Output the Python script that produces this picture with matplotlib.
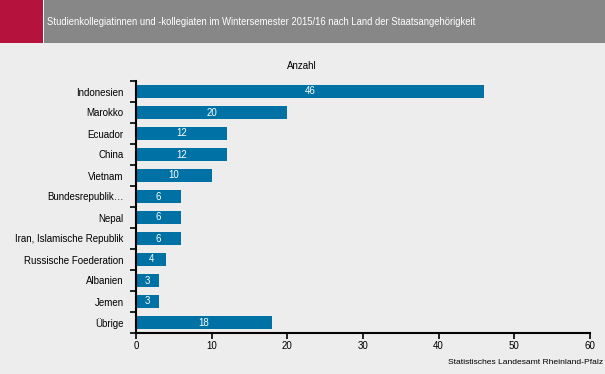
import matplotlib.pyplot as plt
from matplotlib.patches import Rectangle

plt.rcParams["font.family"] = ["Liberation Sans", "DejaVu Sans"]

countries = [
    "Indonesien",
    "Marokko",
    "Ecuador",
    "China",
    "Vietnam",
    "Bundesrepublik…",
    "Nepal",
    "Iran, Islamische Republik",
    "Russische Foederation",
    "Albanien",
    "Jemen",
    "Übrige",
]
counts = [46, 20, 12, 12, 10, 6, 6, 6, 4, 3, 3, 18]
x_ticks = [0, 10, 20, 30, 40, 50, 60]

title = "Studienkollegiatinnen und -kollegiaten im Wintersemester 2015/16 nach Land der Staatsangehörigkeit"
bar_color = "#0071A4"
bg_color = "#EDEDED"

W, H = 605, 374
fig = plt.figure(figsize=(W / 100, H / 100), dpi=100)
fig.patch.set_facecolor(bg_color)

# header band
fig.patches.append(Rectangle((0, 1 - 43 / H), 1, 43 / H, transform=fig.transFigure,
                             facecolor="#878787", edgecolor="none"))
fig.patches.append(Rectangle((0, 1 - 43 / H), 43 / W, 43 / H, transform=fig.transFigure,
                             facecolor="#B5123E", edgecolor="none"))
fig.patches.append(Rectangle((43 / W, 1 - 43 / H), 1 / W, 43 / H, transform=fig.transFigure,
                             facecolor="white", edgecolor="none"))
fig.text(47 / W, 1 - 22 / H, title, color="white", fontsize=6.85, va="center", ha="left")

left, right, top, bottom = 136, 590, 81, 333
ax = fig.add_axes([left / W, 1 - bottom / H, (right - left) / W, (bottom - top) / H])
ax.set_facecolor(bg_color)

y = list(range(len(countries)))
ax.barh(y, counts, height=0.62, color=bar_color)
for yi, v in zip(y, counts):
    ax.text(v / 2, yi, str(v), color="white", fontsize=7, ha="center", va="center")

ax.set_xlim(0, 60)
ax.set_ylim(len(countries) - 0.5, -0.5)
ax.set_xticks(x_ticks)
ax.set_xticklabels([str(t) for t in x_ticks], fontsize=7)
ax.set_yticks(y)
ax.set_yticklabels(countries, fontsize=7)
ax.tick_params(axis="y", length=0, pad=9)
ax.set_yticks([i - 0.5 for i in range(len(countries) + 1)], minor=True)
ax.tick_params(axis="y", which="minor", length=4, width=1.2)
ax.tick_params(axis="x", length=4, width=1.2, pad=2)

for s in ["top", "right"]:
    ax.spines[s].set_visible(False)
for s in ["left", "bottom"]:
    ax.spines[s].set_linewidth(1.5)

fig.text(302 / W, 1 - 66 / H, "Anzahl", fontsize=7, ha="center", va="center")
fig.text(603 / W, 1 - 362 / H, "Statistisches Landesamt Rheinland-Pfalz", fontsize=6.1,
         ha="right", va="center")

fig.savefig("out.png", dpi=100, facecolor=fig.get_facecolor())
